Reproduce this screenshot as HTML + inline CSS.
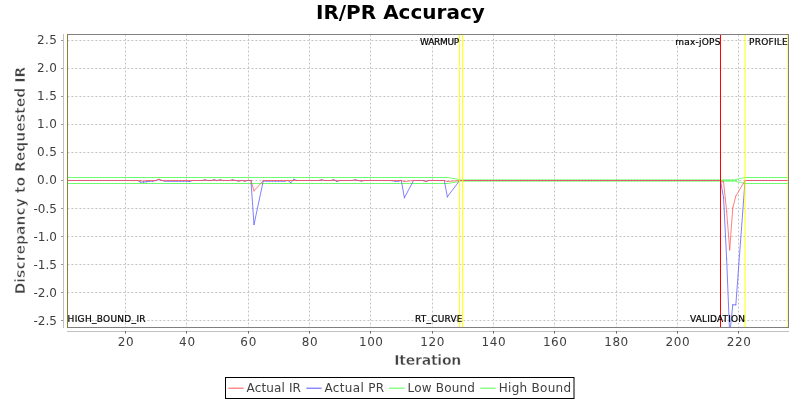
<!DOCTYPE html>
<html lang="en"><head><meta charset="utf-8"><title>IR/PR Accuracy</title>
<style>html,body{margin:0;padding:0;background:#fff}body{width:800px;height:400px;overflow:hidden}svg{display:block}</style>
</head><body>
<svg width="800" height="400" viewBox="0 0 800 400">
<rect width="800" height="400" fill="#fff"/>
<text x="400.4" y="19.4" text-anchor="middle" font-family="DejaVu Sans, Liberation Sans, sans-serif" font-weight="bold" font-size="20" fill="#000">IR/PR Accuracy</text>
<path d="M67.4 40.50H788.50M67.4 68.50H788.50M67.4 96.50H788.50M67.4 124.50H788.50M67.4 152.50H788.50M67.4 180.50H788.50M67.4 208.50H788.50M67.4 236.50H788.50M67.4 264.50H788.50M67.4 292.50H788.50M67.4 320.50H788.50M125.50 34.50V327.50M186.50 34.50V327.50M248.50 34.50V327.50M309.50 34.50V327.50M370.50 34.50V327.50M432.50 34.50V327.50M493.50 34.50V327.50M554.50 34.50V327.50M616.50 34.50V327.50M677.50 34.50V327.50M738.50 34.50V327.50" stroke="#c4c4c4" stroke-width="1" stroke-dasharray="2 2" fill="none"/>
<path d="M63.5 34V328M67 331.5H789" stroke="#c0c0c0" stroke-width="1" fill="none"/>
<path d="M61 40.50H63M61 68.50H63M61 96.50H63M61 124.50H63M61 152.50H63M61 180.50H63M61 208.50H63M61 236.50H63M61 264.50H63M61 292.50H63M61 320.50H63" stroke="#989898" stroke-width="1" fill="none"/>
<path d="M125.50 331V333.6M186.50 331V333.6M248.50 331V333.6M309.50 331V333.6M370.50 331V333.6M432.50 331V333.6M493.50 331V333.6M554.50 331V333.6M616.50 331V333.6M677.50 331V333.6M738.50 331V333.6" stroke="#6a6a6a" stroke-width="1" fill="none"/>
<g font-family="DejaVu Sans, Liberation Sans, sans-serif" font-size="12" fill="#404040">
<text x="37.00" y="43.70" textLength="20" lengthAdjust="spacing">2.5</text>
<text x="37.00" y="71.70" textLength="20" lengthAdjust="spacing">2.0</text>
<text x="37.00" y="99.70" textLength="20" lengthAdjust="spacing">1.5</text>
<text x="37.00" y="127.70" textLength="20" lengthAdjust="spacing">1.0</text>
<text x="37.00" y="155.70" textLength="20" lengthAdjust="spacing">0.5</text>
<text x="37.00" y="183.70" textLength="20" lengthAdjust="spacing">0.0</text>
<text x="33.40" y="212.70" textLength="23.6" lengthAdjust="spacing">-0.5</text>
<text x="33.40" y="240.70" textLength="23.6" lengthAdjust="spacing">-1.0</text>
<text x="33.40" y="268.70" textLength="23.6" lengthAdjust="spacing">-1.5</text>
<text x="33.40" y="296.70" textLength="23.6" lengthAdjust="spacing">-2.0</text>
<text x="33.40" y="324.70" textLength="23.6" lengthAdjust="spacing">-2.5</text>
<text x="117.74" y="346.3" textLength="16" lengthAdjust="spacing">20</text>
<text x="179.05" y="346.3" textLength="16" lengthAdjust="spacing">40</text>
<text x="240.36" y="346.3" textLength="16" lengthAdjust="spacing">60</text>
<text x="301.67" y="346.3" textLength="16" lengthAdjust="spacing">80</text>
<text x="358.98" y="346.3" textLength="24" lengthAdjust="spacing">100</text>
<text x="420.29" y="346.3" textLength="24" lengthAdjust="spacing">120</text>
<text x="481.60" y="346.3" textLength="24" lengthAdjust="spacing">140</text>
<text x="542.91" y="346.3" textLength="24" lengthAdjust="spacing">160</text>
<text x="604.22" y="346.3" textLength="24" lengthAdjust="spacing">180</text>
<text x="665.53" y="346.3" textLength="24" lengthAdjust="spacing">200</text>
<text x="726.84" y="346.3" textLength="24" lengthAdjust="spacing">220</text>
</g>
<g font-family="DejaVu Sans, Liberation Sans, sans-serif" font-size="14" font-weight="bold" fill="#404040">
<text x="394.3" y="365" textLength="67" lengthAdjust="spacing" stroke="#fff" stroke-width="0.4">Iteration</text>
<text transform="translate(24.7 180.60) rotate(-90)" text-anchor="middle" stroke="#fff" stroke-width="0.55">Discrepancy to Requested IR</text>
</g>
<clipPath id="c"><rect x="67.5" y="34.5" width="721.0" height="293.0"/></clipPath>
<g clip-path="url(#c)">
<path d="M459.63 180.50L462.70 180.50M465.77 180.50L468.84 180.50M471.91 180.50L474.98 180.50M478.05 180.50L481.12 180.50M484.18 180.50L487.25 180.50M490.32 180.50L493.39 180.50M496.46 180.50L499.53 180.50M502.60 180.50L505.67 180.50M508.74 180.50L511.81 180.50M514.87 180.50L517.94 180.50M521.01 180.50L524.08 180.50M527.15 180.50L530.22 180.50M533.29 180.50L536.36 180.50M539.43 180.50L542.50 180.50M545.56 180.50L548.63 180.50M551.70 180.50L554.77 180.50M557.84 180.50L560.91 180.50M563.98 180.50L567.05 180.50M570.12 180.50L573.18 180.50M576.25 180.50L579.32 180.50M582.39 180.50L585.46 180.50M588.53 180.50L591.60 180.50M594.67 180.50L597.74 180.50M600.81 180.50L603.88 180.50M606.94 180.50L610.01 180.50M613.08 180.50L616.15 180.50M619.22 180.50L622.29 180.50M625.36 180.50L628.43 180.50M631.50 180.50L634.56 180.50M637.63 180.50L640.70 180.50M643.77 180.50L646.84 180.50M649.91 180.50L652.98 180.50M656.05 180.50L659.12 180.50M662.19 180.50L665.25 180.50M668.32 180.50L671.39 180.50M674.46 180.50L677.53 180.50M680.60 180.50L683.67 180.50M686.74 180.50L689.81 180.50M692.88 180.50L695.94 180.50M699.01 180.50L702.08 180.50M705.15 180.50L708.22 180.50M711.29 180.50L714.36 180.50M717.43 180.50L720.50 180.50M723.57 180.50L726.63 180.50M729.70 180.50L732.77 180.50" stroke="#55ff55" stroke-opacity="0.750" stroke-width="1" stroke-linecap="square" fill="none"/><path d="M462.70 180.50L465.77 180.50M468.84 180.50L471.91 180.50M474.98 180.50L478.05 180.50M481.12 180.50L484.18 180.50M487.25 180.50L490.32 180.50M493.39 180.50L496.46 180.50M499.53 180.50L502.60 180.50M505.67 180.50L508.74 180.50M511.81 180.50L514.87 180.50M517.94 180.50L521.01 180.50M524.08 180.50L527.15 180.50M530.22 180.50L533.29 180.50M536.36 180.50L539.43 180.50M542.50 180.50L545.56 180.50M548.63 180.50L551.70 180.50M554.77 180.50L557.84 180.50M560.91 180.50L563.98 180.50M567.05 180.50L570.12 180.50M573.18 180.50L576.25 180.50M579.32 180.50L582.39 180.50M585.46 180.50L588.53 180.50M591.60 180.50L594.67 180.50M597.74 180.50L600.81 180.50M603.88 180.50L606.94 180.50M610.01 180.50L613.08 180.50M616.15 180.50L619.22 180.50M622.29 180.50L625.36 180.50M628.43 180.50L631.50 180.50M634.56 180.50L637.63 180.50M640.70 180.50L643.77 180.50M646.84 180.50L649.91 180.50M652.98 180.50L656.05 180.50M659.12 180.50L662.19 180.50M665.25 180.50L668.32 180.50M671.39 180.50L674.46 180.50M677.53 180.50L680.60 180.50M683.67 180.50L686.74 180.50M689.81 180.50L692.88 180.50M695.94 180.50L699.01 180.50M702.08 180.50L705.15 180.50M708.22 180.50L711.29 180.50M714.36 180.50L717.43 180.50M720.50 180.50L723.57 180.50M726.63 180.50L729.70 180.50M732.77 180.50L735.84 180.50" stroke="#55ff55" stroke-opacity="0.750" stroke-width="1" stroke-linecap="square" fill="none"/>
<path d="M66.80 177.50L69.87 177.50M72.94 177.50L76.01 177.50M79.08 177.50L82.14 177.50M85.21 177.50L88.28 177.50M91.35 177.50L94.42 177.50M97.49 177.50L100.56 177.50M103.63 177.50L106.70 177.50M109.77 177.50L112.83 177.50M115.90 177.50L118.97 177.50M122.04 177.50L125.11 177.50M128.18 177.50L131.25 177.50M134.32 177.50L137.39 177.50M140.46 177.50L143.52 177.50M146.59 177.50L149.66 177.50M152.73 177.50L155.80 177.50M158.87 177.50L161.94 177.50M165.01 177.50L168.08 177.50M171.15 177.50L174.21 177.50M177.28 177.50L180.35 177.50M183.42 177.50L186.49 177.50M189.56 177.50L192.63 177.50M195.70 177.50L198.77 177.50M201.84 177.50L204.90 177.50M207.97 177.50L211.04 177.50M214.11 177.50L217.18 177.50M220.25 177.50L223.32 177.50M226.39 177.50L229.46 177.50M232.53 177.50L235.59 177.50M238.66 177.50L241.73 177.50M244.80 177.50L247.87 177.50M250.94 177.50L254.01 177.50M263.22 177.50L266.28 177.50M269.35 177.50L272.42 177.50M275.49 177.50L278.56 177.50M281.63 177.50L284.70 177.50M287.77 177.50L290.84 177.50M293.91 177.50L296.97 177.50M300.04 177.50L303.11 177.50M306.18 177.50L309.25 177.50M312.32 177.50L315.39 177.50M318.46 177.50L321.53 177.50M324.60 177.50L327.67 177.50M330.73 177.50L333.80 177.50M336.87 177.50L339.94 177.50M343.01 177.50L346.08 177.50M349.15 177.50L352.22 177.50M355.29 177.50L358.36 177.50M361.42 177.50L364.49 177.50M367.56 177.50L370.63 177.50M373.70 177.50L376.77 177.50M379.84 177.50L382.91 177.50M385.98 177.50L389.05 177.50M392.11 177.50L395.18 177.50M398.25 177.50L401.32 177.50M404.39 177.50L413.60 177.50M416.67 177.50L419.74 177.50M422.80 177.50L425.87 177.50M428.94 177.50L432.01 177.50M435.08 177.50L438.15 177.50M441.22 177.50L444.29 177.50M447.36 177.50L459.63 179.50" stroke="#55ff55" stroke-opacity="0.802" stroke-width="1" stroke-linecap="square" fill="none"/><path d="M69.87 177.50L72.94 177.50M76.01 177.50L79.08 177.50M82.14 177.50L85.21 177.50M88.28 177.50L91.35 177.50M94.42 177.50L97.49 177.50M100.56 177.50L103.63 177.50M106.70 177.50L109.77 177.50M112.83 177.50L115.90 177.50M118.97 177.50L122.04 177.50M125.11 177.50L128.18 177.50M131.25 177.50L134.32 177.50M137.39 177.50L140.46 177.50M143.52 177.50L146.59 177.50M149.66 177.50L152.73 177.50M155.80 177.50L158.87 177.50M161.94 177.50L165.01 177.50M168.08 177.50L171.15 177.50M174.21 177.50L177.28 177.50M180.35 177.50L183.42 177.50M186.49 177.50L189.56 177.50M192.63 177.50L195.70 177.50M198.77 177.50L201.84 177.50M204.90 177.50L207.97 177.50M211.04 177.50L214.11 177.50M217.18 177.50L220.25 177.50M223.32 177.50L226.39 177.50M229.46 177.50L232.53 177.50M235.59 177.50L238.66 177.50M241.73 177.50L244.80 177.50M247.87 177.50L250.94 177.50M254.01 177.50L263.22 177.50M266.28 177.50L269.35 177.50M272.42 177.50L275.49 177.50M278.56 177.50L281.63 177.50M284.70 177.50L287.77 177.50M290.84 177.50L293.91 177.50M296.97 177.50L300.04 177.50M303.11 177.50L306.18 177.50M309.25 177.50L312.32 177.50M315.39 177.50L318.46 177.50M321.53 177.50L324.60 177.50M327.67 177.50L330.73 177.50M333.80 177.50L336.87 177.50M339.94 177.50L343.01 177.50M346.08 177.50L349.15 177.50M352.22 177.50L355.29 177.50M358.36 177.50L361.42 177.50M364.49 177.50L367.56 177.50M370.63 177.50L373.70 177.50M376.77 177.50L379.84 177.50M382.91 177.50L385.98 177.50M389.05 177.50L392.11 177.50M395.18 177.50L398.25 177.50M401.32 177.50L404.39 177.50M413.60 177.50L416.67 177.50M419.74 177.50L422.80 177.50M425.87 177.50L428.94 177.50M432.01 177.50L435.08 177.50M438.15 177.50L441.22 177.50M444.29 177.50L447.36 177.50" stroke="#55ff55" stroke-opacity="0.802" stroke-width="1" stroke-linecap="square" fill="none"/>
<path d="M459.63 179.50L462.70 179.50M465.77 179.50L468.84 179.50M471.91 179.50L474.98 179.50M478.05 179.50L481.12 179.50M484.18 179.50L487.25 179.50M490.32 179.50L493.39 179.50M496.46 179.50L499.53 179.50M502.60 179.50L505.67 179.50M508.74 179.50L511.81 179.50M514.87 179.50L517.94 179.50M521.01 179.50L524.08 179.50M527.15 179.50L530.22 179.50M533.29 179.50L536.36 179.50M539.43 179.50L542.50 179.50M545.56 179.50L548.63 179.50M551.70 179.50L554.77 179.50M557.84 179.50L560.91 179.50M563.98 179.50L567.05 179.50M570.12 179.50L573.18 179.50M576.25 179.50L579.32 179.50M582.39 179.50L585.46 179.50M588.53 179.50L591.60 179.50M594.67 179.50L597.74 179.50M600.81 179.50L603.88 179.50M606.94 179.50L610.01 179.50M613.08 179.50L616.15 179.50M619.22 179.50L622.29 179.50M625.36 179.50L628.43 179.50M631.50 179.50L634.56 179.50M637.63 179.50L640.70 179.50M643.77 179.50L646.84 179.50M649.91 179.50L652.98 179.50M656.05 179.50L659.12 179.50M662.19 179.50L665.25 179.50M668.32 179.50L671.39 179.50M674.46 179.50L677.53 179.50M680.60 179.50L683.67 179.50M686.74 179.50L689.81 179.50M692.88 179.50L695.94 179.50M699.01 179.50L702.08 179.50M705.15 179.50L708.22 179.50M711.29 179.50L714.36 179.50M717.43 179.50L720.50 179.50M723.57 179.50L726.63 179.50M729.70 179.50L732.77 179.50" stroke="#55ff55" stroke-opacity="0.450" stroke-width="1" stroke-linecap="square" fill="none"/><path d="M462.70 179.50L465.77 179.50M468.84 179.50L471.91 179.50M474.98 179.50L478.05 179.50M481.12 179.50L484.18 179.50M487.25 179.50L490.32 179.50M493.39 179.50L496.46 179.50M499.53 179.50L502.60 179.50M505.67 179.50L508.74 179.50M511.81 179.50L514.87 179.50M517.94 179.50L521.01 179.50M524.08 179.50L527.15 179.50M530.22 179.50L533.29 179.50M536.36 179.50L539.43 179.50M542.50 179.50L545.56 179.50M548.63 179.50L551.70 179.50M554.77 179.50L557.84 179.50M560.91 179.50L563.98 179.50M567.05 179.50L570.12 179.50M573.18 179.50L576.25 179.50M579.32 179.50L582.39 179.50M585.46 179.50L588.53 179.50M591.60 179.50L594.67 179.50M597.74 179.50L600.81 179.50M603.88 179.50L606.94 179.50M610.01 179.50L613.08 179.50M616.15 179.50L619.22 179.50M622.29 179.50L625.36 179.50M628.43 179.50L631.50 179.50M634.56 179.50L637.63 179.50M640.70 179.50L643.77 179.50M646.84 179.50L649.91 179.50M652.98 179.50L656.05 179.50M659.12 179.50L662.19 179.50M665.25 179.50L668.32 179.50M671.39 179.50L674.46 179.50M677.53 179.50L680.60 179.50M683.67 179.50L686.74 179.50M689.81 179.50L692.88 179.50M695.94 179.50L699.01 179.50M702.08 179.50L705.15 179.50M708.22 179.50L711.29 179.50M714.36 179.50L717.43 179.50M720.50 179.50L723.57 179.50M726.63 179.50L729.70 179.50M732.77 179.50L735.84 179.50" stroke="#55ff55" stroke-opacity="0.450" stroke-width="1" stroke-linecap="square" fill="none"/>
<path d="M735.84 179.50L745.05 177.50M748.12 177.50L751.19 177.50M754.26 177.50L757.32 177.50M760.39 177.50L763.46 177.50M766.53 177.50L769.60 177.50M772.67 177.50L775.74 177.50M778.81 177.50L781.88 177.50M784.95 177.50L788.01 177.50" stroke="#55ff55" stroke-opacity="0.802" stroke-width="1" stroke-linecap="square" fill="none"/><path d="M745.05 177.50L748.12 177.50M751.19 177.50L754.26 177.50M757.32 177.50L760.39 177.50M763.46 177.50L766.53 177.50M769.60 177.50L772.67 177.50M775.74 177.50L778.81 177.50M781.88 177.50L784.95 177.50" stroke="#55ff55" stroke-opacity="0.802" stroke-width="1" stroke-linecap="square" fill="none"/>
<path d="M66.80 183.50L69.87 183.50M72.94 183.50L76.01 183.50M79.08 183.50L82.14 183.50M85.21 183.50L88.28 183.50M91.35 183.50L94.42 183.50M97.49 183.50L100.56 183.50M103.63 183.50L106.70 183.50M109.77 183.50L112.83 183.50M115.90 183.50L118.97 183.50M122.04 183.50L125.11 183.50M128.18 183.50L131.25 183.50M134.32 183.50L137.39 183.50M140.46 183.50L143.52 183.50M146.59 183.50L149.66 183.50M152.73 183.50L155.80 183.50M158.87 183.50L161.94 183.50M165.01 183.50L168.08 183.50M171.15 183.50L174.21 183.50M177.28 183.50L180.35 183.50M183.42 183.50L186.49 183.50M189.56 183.50L192.63 183.50M195.70 183.50L198.77 183.50M201.84 183.50L204.90 183.50M207.97 183.50L211.04 183.50M214.11 183.50L217.18 183.50M220.25 183.50L223.32 183.50M226.39 183.50L229.46 183.50M232.53 183.50L235.59 183.50M238.66 183.50L241.73 183.50M244.80 183.50L247.87 183.50M250.94 183.50L254.01 183.50M263.22 183.50L266.28 183.50M269.35 183.50L272.42 183.50M275.49 183.50L278.56 183.50M281.63 183.50L284.70 183.50M287.77 183.50L290.84 183.50M293.91 183.50L296.97 183.50M300.04 183.50L303.11 183.50M306.18 183.50L309.25 183.50M312.32 183.50L315.39 183.50M318.46 183.50L321.53 183.50M324.60 183.50L327.67 183.50M330.73 183.50L333.80 183.50M336.87 183.50L339.94 183.50M343.01 183.50L346.08 183.50M349.15 183.50L352.22 183.50M355.29 183.50L358.36 183.50M361.42 183.50L364.49 183.50M367.56 183.50L370.63 183.50M373.70 183.50L376.77 183.50M379.84 183.50L382.91 183.50M385.98 183.50L389.05 183.50M392.11 183.50L395.18 183.50M398.25 183.50L401.32 183.50M404.39 183.50L413.60 183.50M416.67 183.50L419.74 183.50M422.80 183.50L425.87 183.50M428.94 183.50L432.01 183.50M435.08 183.50L438.15 183.50M441.22 183.50L444.29 183.50M447.36 183.50L459.63 181.50" stroke="#55ff55" stroke-opacity="0.802" stroke-width="1" stroke-linecap="square" fill="none"/><path d="M69.87 183.50L72.94 183.50M76.01 183.50L79.08 183.50M82.14 183.50L85.21 183.50M88.28 183.50L91.35 183.50M94.42 183.50L97.49 183.50M100.56 183.50L103.63 183.50M106.70 183.50L109.77 183.50M112.83 183.50L115.90 183.50M118.97 183.50L122.04 183.50M125.11 183.50L128.18 183.50M131.25 183.50L134.32 183.50M137.39 183.50L140.46 183.50M143.52 183.50L146.59 183.50M149.66 183.50L152.73 183.50M155.80 183.50L158.87 183.50M161.94 183.50L165.01 183.50M168.08 183.50L171.15 183.50M174.21 183.50L177.28 183.50M180.35 183.50L183.42 183.50M186.49 183.50L189.56 183.50M192.63 183.50L195.70 183.50M198.77 183.50L201.84 183.50M204.90 183.50L207.97 183.50M211.04 183.50L214.11 183.50M217.18 183.50L220.25 183.50M223.32 183.50L226.39 183.50M229.46 183.50L232.53 183.50M235.59 183.50L238.66 183.50M241.73 183.50L244.80 183.50M247.87 183.50L250.94 183.50M254.01 183.50L263.22 183.50M266.28 183.50L269.35 183.50M272.42 183.50L275.49 183.50M278.56 183.50L281.63 183.50M284.70 183.50L287.77 183.50M290.84 183.50L293.91 183.50M296.97 183.50L300.04 183.50M303.11 183.50L306.18 183.50M309.25 183.50L312.32 183.50M315.39 183.50L318.46 183.50M321.53 183.50L324.60 183.50M327.67 183.50L330.73 183.50M333.80 183.50L336.87 183.50M339.94 183.50L343.01 183.50M346.08 183.50L349.15 183.50M352.22 183.50L355.29 183.50M358.36 183.50L361.42 183.50M364.49 183.50L367.56 183.50M370.63 183.50L373.70 183.50M376.77 183.50L379.84 183.50M382.91 183.50L385.98 183.50M389.05 183.50L392.11 183.50M395.18 183.50L398.25 183.50M401.32 183.50L404.39 183.50M413.60 183.50L416.67 183.50M419.74 183.50L422.80 183.50M425.87 183.50L428.94 183.50M432.01 183.50L435.08 183.50M438.15 183.50L441.22 183.50M444.29 183.50L447.36 183.50" stroke="#55ff55" stroke-opacity="0.802" stroke-width="1" stroke-linecap="square" fill="none"/>
<path d="M459.63 181.50L462.70 181.50M465.77 181.50L468.84 181.50M471.91 181.50L474.98 181.50M478.05 181.50L481.12 181.50M484.18 181.50L487.25 181.50M490.32 181.50L493.39 181.50M496.46 181.50L499.53 181.50M502.60 181.50L505.67 181.50M508.74 181.50L511.81 181.50M514.87 181.50L517.94 181.50M521.01 181.50L524.08 181.50M527.15 181.50L530.22 181.50M533.29 181.50L536.36 181.50M539.43 181.50L542.50 181.50M545.56 181.50L548.63 181.50M551.70 181.50L554.77 181.50M557.84 181.50L560.91 181.50M563.98 181.50L567.05 181.50M570.12 181.50L573.18 181.50M576.25 181.50L579.32 181.50M582.39 181.50L585.46 181.50M588.53 181.50L591.60 181.50M594.67 181.50L597.74 181.50M600.81 181.50L603.88 181.50M606.94 181.50L610.01 181.50M613.08 181.50L616.15 181.50M619.22 181.50L622.29 181.50M625.36 181.50L628.43 181.50M631.50 181.50L634.56 181.50M637.63 181.50L640.70 181.50M643.77 181.50L646.84 181.50M649.91 181.50L652.98 181.50M656.05 181.50L659.12 181.50M662.19 181.50L665.25 181.50M668.32 181.50L671.39 181.50M674.46 181.50L677.53 181.50M680.60 181.50L683.67 181.50M686.74 181.50L689.81 181.50M692.88 181.50L695.94 181.50M699.01 181.50L702.08 181.50M705.15 181.50L708.22 181.50M711.29 181.50L714.36 181.50M717.43 181.50L720.50 181.50M723.57 181.50L726.63 181.50M729.70 181.50L732.77 181.50" stroke="#55ff55" stroke-opacity="0.450" stroke-width="1" stroke-linecap="square" fill="none"/><path d="M462.70 181.50L465.77 181.50M468.84 181.50L471.91 181.50M474.98 181.50L478.05 181.50M481.12 181.50L484.18 181.50M487.25 181.50L490.32 181.50M493.39 181.50L496.46 181.50M499.53 181.50L502.60 181.50M505.67 181.50L508.74 181.50M511.81 181.50L514.87 181.50M517.94 181.50L521.01 181.50M524.08 181.50L527.15 181.50M530.22 181.50L533.29 181.50M536.36 181.50L539.43 181.50M542.50 181.50L545.56 181.50M548.63 181.50L551.70 181.50M554.77 181.50L557.84 181.50M560.91 181.50L563.98 181.50M567.05 181.50L570.12 181.50M573.18 181.50L576.25 181.50M579.32 181.50L582.39 181.50M585.46 181.50L588.53 181.50M591.60 181.50L594.67 181.50M597.74 181.50L600.81 181.50M603.88 181.50L606.94 181.50M610.01 181.50L613.08 181.50M616.15 181.50L619.22 181.50M622.29 181.50L625.36 181.50M628.43 181.50L631.50 181.50M634.56 181.50L637.63 181.50M640.70 181.50L643.77 181.50M646.84 181.50L649.91 181.50M652.98 181.50L656.05 181.50M659.12 181.50L662.19 181.50M665.25 181.50L668.32 181.50M671.39 181.50L674.46 181.50M677.53 181.50L680.60 181.50M683.67 181.50L686.74 181.50M689.81 181.50L692.88 181.50M695.94 181.50L699.01 181.50M702.08 181.50L705.15 181.50M708.22 181.50L711.29 181.50M714.36 181.50L717.43 181.50M720.50 181.50L723.57 181.50M726.63 181.50L729.70 181.50M732.77 181.50L735.84 181.50" stroke="#55ff55" stroke-opacity="0.450" stroke-width="1" stroke-linecap="square" fill="none"/>
<path d="M735.84 181.50L745.05 183.50M748.12 183.50L751.19 183.50M754.26 183.50L757.32 183.50M760.39 183.50L763.46 183.50M766.53 183.50L769.60 183.50M772.67 183.50L775.74 183.50M778.81 183.50L781.88 183.50M784.95 183.50L788.01 183.50" stroke="#55ff55" stroke-opacity="0.802" stroke-width="1" stroke-linecap="square" fill="none"/><path d="M745.05 183.50L748.12 183.50M751.19 183.50L754.26 183.50M757.32 183.50L760.39 183.50M763.46 183.50L766.53 183.50M769.60 183.50L772.67 183.50M775.74 183.50L778.81 183.50M781.88 183.50L784.95 183.50" stroke="#55ff55" stroke-opacity="0.802" stroke-width="1" stroke-linecap="square" fill="none"/>
<path d="M66.80 180.50L69.87 180.50M72.94 180.50L76.01 180.50M79.08 180.50L82.14 180.50M85.21 180.50L88.28 180.50M91.35 180.50L94.42 180.50M97.49 180.50L100.56 180.50M103.63 180.50L106.70 180.50M109.77 180.50L112.83 180.50M115.90 180.50L118.97 180.50M122.04 180.50L125.11 180.50M128.18 180.50L131.25 180.50M134.32 180.50L137.39 180.50M140.46 182.08L143.52 182.08M146.59 181.80L149.66 181.18M152.73 181.18L155.80 180.50M158.87 179.56L161.94 180.50M165.01 181.18L168.08 181.18M171.15 181.18L174.21 181.18M177.28 181.18L180.35 181.18M183.42 181.18L186.49 181.18M189.56 181.50L192.63 180.50M195.70 180.50L198.77 180.50M201.84 180.50L204.90 180.01M207.97 180.50L211.04 180.50M214.11 180.01L217.18 180.50M220.25 180.01L223.32 180.50M226.39 180.50L229.46 180.50M232.53 180.01L235.59 180.50M238.66 181.02L241.73 180.50M244.80 181.02L247.87 180.50M250.94 180.50L254.01 224.51M263.22 181.13L266.28 181.13M269.35 181.13L272.42 181.13M275.49 181.13L278.56 181.13M281.63 181.13L284.70 181.13M287.77 180.50L290.84 182.64M293.91 179.28L296.97 180.50M300.04 180.50L303.11 180.50M306.18 180.50L309.25 180.50M312.32 180.50L315.39 180.50M318.46 180.50L321.53 179.95M324.60 180.50L327.67 180.50M330.73 180.50L333.80 179.95M336.87 181.41L339.94 180.50M343.01 180.50L346.08 180.50M349.15 180.50L352.22 180.50M355.29 179.95L358.36 180.50M361.42 180.90L364.49 180.50M367.56 180.50L370.63 180.50M373.70 180.50L376.77 180.50M379.84 180.50L382.91 180.50M385.98 180.50L389.05 180.50M392.11 180.68L395.18 181.24M398.25 181.24L401.32 180.50M404.39 197.78L413.60 180.50M416.67 180.50L419.74 180.50M422.80 180.50L425.87 181.24M428.94 180.50L432.01 180.50M435.08 180.50L438.15 180.50M441.22 180.50L444.29 180.50M447.36 196.88L459.63 180.50M462.70 180.50L465.77 180.50M468.84 180.50L471.91 180.50M474.98 180.50L478.05 180.50M481.12 180.50L484.18 180.50M487.25 180.50L490.32 180.50M493.39 180.50L496.46 180.50M499.53 180.50L502.60 180.50M505.67 180.50L508.74 180.50M511.81 180.50L514.87 180.50M517.94 180.50L521.01 180.50M524.08 180.50L527.15 180.50M530.22 180.50L533.29 180.50M536.36 180.50L539.43 180.50M542.50 180.50L545.56 180.50M548.63 180.50L551.70 180.50M554.77 180.50L557.84 180.50M560.91 180.50L563.98 180.50M567.05 180.50L570.12 180.50M573.18 180.50L576.25 180.50M579.32 180.50L582.39 180.50M585.46 180.50L588.53 180.50M591.60 180.50L594.67 180.50M597.74 180.50L600.81 180.50M603.88 180.50L606.94 180.50M610.01 180.50L613.08 180.50M616.15 180.50L619.22 180.50M622.29 180.50L625.36 180.50M628.43 180.50L631.50 180.50M634.56 180.50L637.63 180.50M640.70 180.50L643.77 180.50M646.84 180.50L649.91 180.50M652.98 180.50L656.05 180.50M659.12 180.50L662.19 180.50M665.25 180.50L668.32 180.50M671.39 180.50L674.46 180.50M677.53 180.50L680.60 180.50M683.67 180.50L686.74 180.50M689.81 180.50L692.88 180.50M695.94 180.50L699.01 180.50M702.08 180.50L705.15 180.50M708.22 180.50L711.29 180.50M714.36 180.50L717.43 180.50M720.50 180.50L723.57 197.78M726.63 258.87L729.70 335.10M732.77 304.83L735.84 304.83M745.05 180.50L748.12 180.50M751.19 180.50L754.26 180.50M757.32 180.50L760.39 180.50M763.46 180.50L766.53 180.50M769.60 180.50L772.67 180.50M775.74 180.50L778.81 180.50M781.88 180.50L784.95 180.50" stroke="#5555ff" stroke-opacity="0.750" stroke-width="1" stroke-linecap="square" fill="none"/><path d="M69.87 180.50L72.94 180.50M76.01 180.50L79.08 180.50M82.14 180.50L85.21 180.50M88.28 180.50L91.35 180.50M94.42 180.50L97.49 180.50M100.56 180.50L103.63 180.50M106.70 180.50L109.77 180.50M112.83 180.50L115.90 180.50M118.97 180.50L122.04 180.50M125.11 180.50L128.18 180.50M131.25 180.50L134.32 180.50M137.39 180.50L140.46 182.08M143.52 182.08L146.59 181.80M149.66 181.18L152.73 181.18M155.80 180.50L158.87 179.56M161.94 180.50L165.01 181.18M168.08 181.18L171.15 181.18M174.21 181.18L177.28 181.18M180.35 181.18L183.42 181.18M186.49 181.18L189.56 181.50M192.63 180.50L195.70 180.50M198.77 180.50L201.84 180.50M204.90 180.01L207.97 180.50M211.04 180.50L214.11 180.01M217.18 180.50L220.25 180.01M223.32 180.50L226.39 180.50M229.46 180.50L232.53 180.01M235.59 180.50L238.66 181.02M241.73 180.50L244.80 181.02M247.87 180.50L250.94 180.50M254.01 224.51L263.22 181.13M266.28 181.13L269.35 181.13M272.42 181.13L275.49 181.13M278.56 181.13L281.63 181.13M284.70 181.13L287.77 180.50M290.84 182.64L293.91 179.28M296.97 180.50L300.04 180.50M303.11 180.50L306.18 180.50M309.25 180.50L312.32 180.50M315.39 180.50L318.46 180.50M321.53 179.95L324.60 180.50M327.67 180.50L330.73 180.50M333.80 179.95L336.87 181.41M339.94 180.50L343.01 180.50M346.08 180.50L349.15 180.50M352.22 180.50L355.29 179.95M358.36 180.50L361.42 180.90M364.49 180.50L367.56 180.50M370.63 180.50L373.70 180.50M376.77 180.50L379.84 180.50M382.91 180.50L385.98 180.50M389.05 180.50L392.11 180.68M395.18 181.24L398.25 181.24M401.32 180.50L404.39 197.78M413.60 180.50L416.67 180.50M419.74 180.50L422.80 180.50M425.87 181.24L428.94 180.50M432.01 180.50L435.08 180.50M438.15 180.50L441.22 180.50M444.29 180.50L447.36 196.88M459.63 180.50L462.70 180.50M465.77 180.50L468.84 180.50M471.91 180.50L474.98 180.50M478.05 180.50L481.12 180.50M484.18 180.50L487.25 180.50M490.32 180.50L493.39 180.50M496.46 180.50L499.53 180.50M502.60 180.50L505.67 180.50M508.74 180.50L511.81 180.50M514.87 180.50L517.94 180.50M521.01 180.50L524.08 180.50M527.15 180.50L530.22 180.50M533.29 180.50L536.36 180.50M539.43 180.50L542.50 180.50M545.56 180.50L548.63 180.50M551.70 180.50L554.77 180.50M557.84 180.50L560.91 180.50M563.98 180.50L567.05 180.50M570.12 180.50L573.18 180.50M576.25 180.50L579.32 180.50M582.39 180.50L585.46 180.50M588.53 180.50L591.60 180.50M594.67 180.50L597.74 180.50M600.81 180.50L603.88 180.50M606.94 180.50L610.01 180.50M613.08 180.50L616.15 180.50M619.22 180.50L622.29 180.50M625.36 180.50L628.43 180.50M631.50 180.50L634.56 180.50M637.63 180.50L640.70 180.50M643.77 180.50L646.84 180.50M649.91 180.50L652.98 180.50M656.05 180.50L659.12 180.50M662.19 180.50L665.25 180.50M668.32 180.50L671.39 180.50M674.46 180.50L677.53 180.50M680.60 180.50L683.67 180.50M686.74 180.50L689.81 180.50M692.88 180.50L695.94 180.50M699.01 180.50L702.08 180.50M705.15 180.50L708.22 180.50M711.29 180.50L714.36 180.50M717.43 180.50L720.50 180.50M723.57 197.78L726.63 258.87M729.70 335.10L732.77 304.83M735.84 304.83L745.05 180.50M748.12 180.50L751.19 180.50M754.26 180.50L757.32 180.50M760.39 180.50L763.46 180.50M766.53 180.50L769.60 180.50M772.67 180.50L775.74 180.50M778.81 180.50L781.88 180.50M784.95 180.50L788.01 180.50" stroke="#5555ff" stroke-opacity="0.750" stroke-width="1" stroke-linecap="square" fill="none"/>
<path d="M66.80 180.50L69.87 180.50M72.94 180.50L76.01 180.50M79.08 180.50L82.14 180.50M85.21 180.50L88.28 180.50M91.35 180.50L94.42 180.50M97.49 180.50L100.56 180.50M103.63 180.50L106.70 180.50M109.77 180.50L112.83 180.50M115.90 180.50L118.97 180.50M122.04 180.50L125.11 180.50M128.18 180.50L131.25 180.50M134.32 180.50L137.39 180.50M140.46 180.50L143.52 181.24M146.59 180.50L149.66 180.50M152.73 180.50L155.80 180.50M158.87 179.28L161.94 180.50M165.01 180.50L168.08 180.50M171.15 180.50L174.21 180.50M177.28 180.50L180.35 180.50M183.42 180.50L186.49 180.50M189.56 180.50L192.63 180.50M195.70 180.50L198.77 180.50M201.84 180.50L204.90 180.01M207.97 180.50L211.04 180.50M214.11 180.01L217.18 180.50M220.25 180.01L223.32 180.50M226.39 180.50L229.46 180.50M232.53 180.01L235.59 180.50M238.66 180.85L241.73 180.50M244.80 180.85L247.87 180.50M250.94 180.50L254.01 190.88M263.22 180.68L266.28 180.50M269.35 180.50L272.42 180.50M275.49 180.50L278.56 180.50M281.63 180.50L284.70 180.50M287.77 180.50L290.84 180.50M293.91 180.50L296.97 180.50M300.04 180.50L303.11 180.50M306.18 180.50L309.25 180.50M312.32 180.50L315.39 180.50M318.46 180.50L321.53 179.95M324.60 180.50L327.67 180.50M330.73 180.50L333.80 179.95M336.87 180.85L339.94 180.50M343.01 180.50L346.08 180.50M349.15 180.50L352.22 180.50M355.29 179.95L358.36 180.50M361.42 180.85L364.49 180.50M367.56 180.50L370.63 180.50M373.70 180.50L376.77 180.50M379.84 180.50L382.91 180.50M385.98 180.50L389.05 180.50M392.11 180.50L395.18 180.50M398.25 180.50L401.32 180.50M404.39 181.52L413.60 180.50M416.67 180.50L419.74 180.50M422.80 180.50L425.87 181.50M428.94 180.50L432.01 180.50M435.08 180.50L438.15 180.50M441.22 180.50L444.29 180.50M447.36 181.50L459.63 180.50M462.70 180.50L465.77 180.50M468.84 180.50L471.91 180.50M474.98 180.50L478.05 180.50M481.12 180.50L484.18 180.50M487.25 180.50L490.32 180.50M493.39 180.50L496.46 180.50M499.53 180.50L502.60 180.50M505.67 180.50L508.74 180.50M511.81 180.50L514.87 180.50M517.94 180.50L521.01 180.50M524.08 180.50L527.15 180.50M530.22 180.50L533.29 180.50M536.36 180.50L539.43 180.50M542.50 180.50L545.56 180.50M548.63 180.50L551.70 180.50M554.77 180.50L557.84 180.50M560.91 180.50L563.98 180.50M567.05 180.50L570.12 180.50M573.18 180.50L576.25 180.50M579.32 180.50L582.39 180.50M585.46 180.50L588.53 180.50M591.60 180.50L594.67 180.50M597.74 180.50L600.81 180.50M603.88 180.50L606.94 180.50M610.01 180.50L613.08 180.50M616.15 180.50L619.22 180.50M622.29 180.50L625.36 180.50M628.43 180.50L631.50 180.50M634.56 180.50L637.63 180.50M640.70 180.50L643.77 180.50M646.84 180.50L649.91 180.50M652.98 180.50L656.05 180.50M659.12 180.50L662.19 180.50M665.25 180.50L668.32 180.50M671.39 180.50L674.46 180.50M677.53 180.50L680.60 180.50M683.67 180.50L686.74 180.50M689.81 180.50L692.88 180.50M695.94 180.50L699.01 180.50M702.08 180.50L705.15 180.50M708.22 180.50L711.29 180.50M714.36 180.50L717.43 180.50M720.50 180.50L723.57 182.08M726.63 211.23L729.70 249.90M732.77 207.86L735.84 196.09M745.05 180.50L748.12 180.50M751.19 180.50L754.26 180.50M757.32 180.50L760.39 180.50M763.46 180.50L766.53 180.50M769.60 180.50L772.67 180.50M775.74 180.50L778.81 180.50M781.88 180.50L784.95 180.50" stroke="#ff5555" stroke-opacity="0.750" stroke-width="1" stroke-linecap="square" fill="none"/><path d="M69.87 180.50L72.94 180.50M76.01 180.50L79.08 180.50M82.14 180.50L85.21 180.50M88.28 180.50L91.35 180.50M94.42 180.50L97.49 180.50M100.56 180.50L103.63 180.50M106.70 180.50L109.77 180.50M112.83 180.50L115.90 180.50M118.97 180.50L122.04 180.50M125.11 180.50L128.18 180.50M131.25 180.50L134.32 180.50M137.39 180.50L140.46 180.50M143.52 181.24L146.59 180.50M149.66 180.50L152.73 180.50M155.80 180.50L158.87 179.28M161.94 180.50L165.01 180.50M168.08 180.50L171.15 180.50M174.21 180.50L177.28 180.50M180.35 180.50L183.42 180.50M186.49 180.50L189.56 180.50M192.63 180.50L195.70 180.50M198.77 180.50L201.84 180.50M204.90 180.01L207.97 180.50M211.04 180.50L214.11 180.01M217.18 180.50L220.25 180.01M223.32 180.50L226.39 180.50M229.46 180.50L232.53 180.01M235.59 180.50L238.66 180.85M241.73 180.50L244.80 180.85M247.87 180.50L250.94 180.50M254.01 190.88L263.22 180.68M266.28 180.50L269.35 180.50M272.42 180.50L275.49 180.50M278.56 180.50L281.63 180.50M284.70 180.50L287.77 180.50M290.84 180.50L293.91 180.50M296.97 180.50L300.04 180.50M303.11 180.50L306.18 180.50M309.25 180.50L312.32 180.50M315.39 180.50L318.46 180.50M321.53 179.95L324.60 180.50M327.67 180.50L330.73 180.50M333.80 179.95L336.87 180.85M339.94 180.50L343.01 180.50M346.08 180.50L349.15 180.50M352.22 180.50L355.29 179.95M358.36 180.50L361.42 180.85M364.49 180.50L367.56 180.50M370.63 180.50L373.70 180.50M376.77 180.50L379.84 180.50M382.91 180.50L385.98 180.50M389.05 180.50L392.11 180.50M395.18 180.50L398.25 180.50M401.32 180.50L404.39 181.52M413.60 180.50L416.67 180.50M419.74 180.50L422.80 180.50M425.87 181.50L428.94 180.50M432.01 180.50L435.08 180.50M438.15 180.50L441.22 180.50M444.29 180.50L447.36 181.50M459.63 180.50L462.70 180.50M465.77 180.50L468.84 180.50M471.91 180.50L474.98 180.50M478.05 180.50L481.12 180.50M484.18 180.50L487.25 180.50M490.32 180.50L493.39 180.50M496.46 180.50L499.53 180.50M502.60 180.50L505.67 180.50M508.74 180.50L511.81 180.50M514.87 180.50L517.94 180.50M521.01 180.50L524.08 180.50M527.15 180.50L530.22 180.50M533.29 180.50L536.36 180.50M539.43 180.50L542.50 180.50M545.56 180.50L548.63 180.50M551.70 180.50L554.77 180.50M557.84 180.50L560.91 180.50M563.98 180.50L567.05 180.50M570.12 180.50L573.18 180.50M576.25 180.50L579.32 180.50M582.39 180.50L585.46 180.50M588.53 180.50L591.60 180.50M594.67 180.50L597.74 180.50M600.81 180.50L603.88 180.50M606.94 180.50L610.01 180.50M613.08 180.50L616.15 180.50M619.22 180.50L622.29 180.50M625.36 180.50L628.43 180.50M631.50 180.50L634.56 180.50M637.63 180.50L640.70 180.50M643.77 180.50L646.84 180.50M649.91 180.50L652.98 180.50M656.05 180.50L659.12 180.50M662.19 180.50L665.25 180.50M668.32 180.50L671.39 180.50M674.46 180.50L677.53 180.50M680.60 180.50L683.67 180.50M686.74 180.50L689.81 180.50M692.88 180.50L695.94 180.50M699.01 180.50L702.08 180.50M705.15 180.50L708.22 180.50M711.29 180.50L714.36 180.50M717.43 180.50L720.50 180.50M723.57 182.08L726.63 211.23M729.70 249.90L732.77 207.86M735.84 196.09L745.05 180.50M748.12 180.50L751.19 180.50M754.26 180.50L757.32 180.50M760.39 180.50L763.46 180.50M766.53 180.50L769.60 180.50M772.67 180.50L775.74 180.50M778.81 180.50L781.88 180.50M784.95 180.50L788.01 180.50" stroke="#ff5555" stroke-opacity="0.750" stroke-width="1" stroke-linecap="square" fill="none"/>
<path d="M66.80 34V328" stroke="#ffff00" stroke-width="1" fill="none"/>
<path d="M459.63 34V328" stroke="#ffff00" stroke-width="1" fill="none"/>
<path d="M462.70 34V328" stroke="#ffff00" stroke-width="1" fill="none"/>
<path d="M720.50 34V328" stroke="#ff0000" stroke-width="1" fill="none"/>
<path d="M745.05 34V328" stroke="#ffff00" stroke-width="1" fill="none"/>
<path d="M788.01 34V328" stroke="#ffff00" stroke-width="1" fill="none"/>
</g>
<g font-family="DejaVu Sans, Liberation Sans, sans-serif" font-size="9" fill="#000" stroke="#000" stroke-width="0.2">
<text x="67.6" y="321.6" textLength="78" lengthAdjust="spacing">HIGH_BOUND_IR</text>
<text x="420" y="44.6" textLength="39.2" lengthAdjust="spacing">WARMUP</text>
<text x="415" y="321.6" textLength="47.5" lengthAdjust="spacing">RT_CURVE</text>
<text x="675.3" y="44.6" textLength="45.2" lengthAdjust="spacing">max-jOPS</text>
<text x="690" y="321.6" textLength="55" lengthAdjust="spacing">VALIDATION</text>
<text x="749" y="44.6" textLength="38.7" lengthAdjust="spacing">PROFILE</text>
</g>
<rect x="67.5" y="34.5" width="721.0" height="293.0" fill="none" stroke="#808080" stroke-width="1"/>
<rect x="67" y="34" width="1" height="294" fill="#84842f"/>
<rect x="787" y="34" width="1" height="1" fill="#84842f"/><rect x="787" y="327" width="1" height="1" fill="#84842f"/>
<rect x="225.5" y="377.5" width="348.5" height="21" fill="#fff" stroke="#000" stroke-width="1"/>
<g font-family="DejaVu Sans, Liberation Sans, sans-serif" font-size="12" fill="#404040">
<path d="M228.3 388.2H243.6" stroke="#ff5555" stroke-width="1"/>
<text x="246.6" y="391.9" textLength="54.3" lengthAdjust="spacing">Actual IR</text>
<path d="M306.4 388.2H321.6" stroke="#5555ff" stroke-width="1"/>
<text x="324.4" y="391.9" textLength="59.8" lengthAdjust="spacing">Actual PR</text>
<path d="M389.0 388.2H404.6" stroke="#55ff55" stroke-width="1"/>
<text x="407.6" y="391.9" textLength="67.2" lengthAdjust="spacing">Low Bound</text>
<path d="M480.2 388.2H495.7" stroke="#55ff55" stroke-width="1"/>
<text x="498.8" y="391.9" textLength="72.2" lengthAdjust="spacing">High Bound</text>
</g>
</svg>
</body></html>
